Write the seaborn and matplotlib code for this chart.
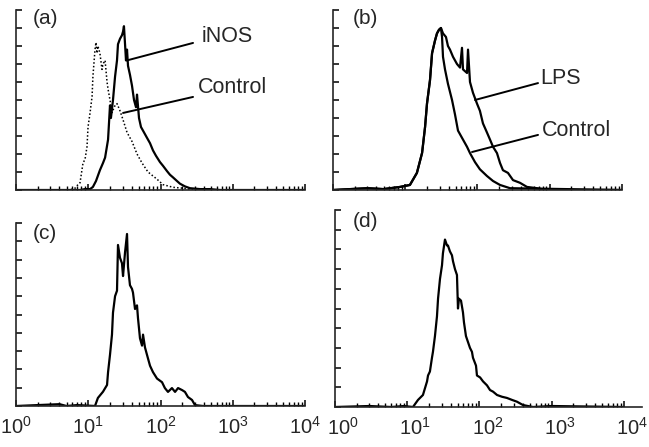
import matplotlib
matplotlib.use("Agg")
import matplotlib.pyplot as plt
import matplotlib.ticker as mticker
import matplotlib.transforms as mtransforms
import seaborn as sns
import pandas as pd

# ---------------- data (fluorescence intensity, relative cell count) ----------------
a_inos_x = [1.0, 7.7, 9.0, 10.6, 11.6, 12.8, 14.5, 16.0, 17.1, 18.8, 20.0, 20.6, 22.0, 23.5, 25.0,
            25.8, 27.5, 29.3, 30.3, 31.2, 32.3, 33.3, 34.4, 35.5, 37.8, 40.3, 43.0, 45.8, 47.3, 50.4,
            53.7, 59.1, 65.0, 71.6, 78.7, 86.6, 98.4, 108, 123, 135, 149, 169, 186, 218, 256,
            352, 484, 666, 1733, 10000]
a_inos_y = [0, 0.0, 0.05, 0.05, 0.17, 0.5, 1.1, 1.5, 1.8, 2.8, 4.7, 4.0, 5.0, 6.3, 7.2,
            8.1, 8.4, 8.6, 8.8, 9.1, 8.1, 7.2, 7.8, 6.9, 6.4, 5.8, 5.0, 4.6, 5.3, 4.0,
            3.5, 3.2, 2.9, 2.6, 2.2, 1.9, 1.55, 1.35, 1.05, 0.85, 0.7, 0.5, 0.35, 0.2, 0.1,
            0.05, 0.05, 0.0, 0.0, 0.0]

a_ctrl_x = [1.0, 5.5, 6.56, 7.21, 7.69, 8.46, 9.02, 9.61, 9.93, 10.6, 11.3, 11.6, 12.4, 12.8, 13.2,
            13.6, 14.5, 15.5, 16.0, 17.1, 18.2, 18.8, 20.0, 21.3, 23.5, 25.0, 27.5, 30.3, 34.4, 40.3,
            47.3, 55.5, 67.1, 89.5, 108, 149, 205, 300, 10000]
a_ctrl_y = [0, 0.0, 0.1, 0.3, 0.4, 1.5, 1.7, 2.4, 3.5, 4.3, 5.2, 6.3, 7.8, 8.2, 7.6,
            8.0, 7.6, 6.7, 7.0, 7.2, 6.0, 5.6, 5.0, 4.3, 4.7, 4.8, 4.4, 3.9, 3.2, 2.7,
            2.0, 1.5, 1.0, 0.6, 0.3, 0.15, 0.1, 0.0, 0.0]

b_lps_x = [1.0, 3.0, 5.0, 8.46, 11.6, 14.5, 17.1, 18.8, 20.0, 22.0, 23.5, 25.8, 27.5, 29.3, 31.2,
           33.3, 36.6, 39.0, 41.6, 45.8, 52.0, 57.3, 61.0, 63.0, 71.6, 73.9, 78.7, 86.6, 98.4, 108,
           119, 135, 149, 164, 186, 205, 225, 264, 310, 387, 484, 666, 916, 10000]
b_lps_y = [0, 0.1, 0.05, 0.17, 0.28, 0.95, 2.06, 3.5, 4.8, 6.1, 7.6, 8.3, 8.7, 8.9, 9.0,
           8.7, 8.5, 8.0, 7.8, 7.4, 7.0, 6.8, 7.9, 6.7, 6.5, 7.8, 6.0, 5.4, 4.8, 4.4,
           3.7, 3.2, 2.8, 2.4, 2.05, 1.5, 1.1, 0.95, 0.55, 0.4, 0.17, 0.1, 0.0, 0.0]

b_ctrl_x = [1.0, 3.0, 5.0, 8.46, 11.6, 14.5, 17.1, 18.8, 20.0, 22.0, 23.5, 25.8, 27.5, 29.3, 31.2,
            32.3, 33.3, 35.5, 39.0, 44.4, 48.8, 53.7, 61.0, 71.6, 78.7, 92.3, 108, 135, 164, 205,
            282, 10000]
b_ctrl_y = [0, 0.1, 0.05, 0.17, 0.28, 0.95, 2.06, 3.5, 4.8, 6.1, 7.6, 8.3, 8.7, 8.9, 9.0,
            8.5, 7.4, 6.7, 5.9, 5.0, 4.2, 3.3, 2.9, 2.4, 2.05, 1.55, 1.15, 0.78, 0.5, 0.28,
            0.1, 0.0]

c_x = [1.0, 4.0, 5.0, 7.0, 12.4, 13.6, 16.0, 18.2, 18.8, 20.0, 21.3, 22.0, 23.5, 25.0, 25.8,
       27.5, 29.3, 30.3, 32.3, 34.4, 35.5, 37.8, 40.3, 41.6, 44.4, 47.3, 48.8, 52.0, 55.5, 57.3,
       61.0, 65.0, 67.1, 71.6, 78.7, 89.5, 105, 115, 127, 144, 159, 175, 199, 218, 240,
       273, 300, 387, 10000]
c_y = [0, 0.1, 0.0, 0.05, 0.0, 0.44, 0.78, 1.15, 1.85, 2.8, 3.9, 5.1, 6.0, 6.3, 8.8,
       8.1, 7.8, 7.1, 8.4, 9.4, 7.6, 6.6, 6.4, 6.2, 5.3, 5.5, 4.8, 3.7, 3.3, 3.9,
       3.2, 2.8, 2.6, 2.2, 1.85, 1.5, 1.3, 0.98, 0.77, 0.98, 0.77, 0.98, 0.87, 0.77, 0.49,
       0.33, 0.05, 0.0, 0.0]

d_x = [1.0, 3.0, 6.0, 9.0, 12.0, 14.1, 16.5, 18.8, 19.4, 20.6, 22.0, 22.7, 24.2, 25.8, 26.7,
       28.4, 30.3, 31.2, 33.3, 35.5, 36.6, 39.0, 41.6, 43.0, 45.8, 48.8, 50.4, 52.0, 55.5, 59.1,
       61.0, 65.0, 69.3, 73.9, 78.7, 81.3, 89.5, 92.3, 102, 112, 127, 140, 154, 175, 205,
       240, 282, 330, 400, 550, 1000, 10000]
d_y = [0, 0.05, 0.0, 0.05, 0.0, 0.36, 0.61, 1.3, 1.6, 1.8, 2.5, 2.8, 3.6, 4.6, 5.5,
       6.5, 7.2, 7.8, 8.5, 8.2, 8.2, 7.9, 7.7, 7.4, 7.0, 6.7, 5.0, 5.5, 5.4, 4.8,
       4.3, 3.6, 3.3, 3.0, 2.8, 2.5, 2.1, 1.6, 1.5, 1.3, 1.1, 0.86, 0.78, 0.61, 0.52,
       0.46, 0.36, 0.27, 0.1, 0.0, 0.05, 0.0]

panel_labels = ["(a)", "(b)", "(c)", "(d)"]
tick_decades = [1, 10, 100, 1000, 10000]

# ---------------- style ----------------
sns.set_style("ticks")
plt.rcParams["font.family"] = ["Liberation Sans", "DejaVu Sans"]
plt.rcParams["axes.linewidth"] = 1.2

W, H = 649, 447
fig = plt.figure(figsize=(W / 100, H / 100), dpi=100)


def add_ax(left, right, top, bottom):
    return fig.add_axes([left / W, 1 - bottom / H, (right - left) / W, (bottom - top) / H])


ax_a = add_ax(16, 305, 10, 190)
ax_b = add_ax(333, 622, 10, 190)
ax_c = add_ax(16, 305, 223, 406)
ax_d = add_ax(335, 642, 210, 407)
axes = [ax_a, ax_b, ax_c, ax_d]

lw = 1.6
sns.lineplot(data=pd.DataFrame({"x": a_ctrl_x, "y": a_ctrl_y}), x="x", y="y", ax=ax_a,
             color="black", lw=1.1, linestyle=(0, (1, 1.4)), estimator=None)
sns.lineplot(data=pd.DataFrame({"x": a_inos_x, "y": a_inos_y}), x="x", y="y", ax=ax_a,
             color="black", lw=lw, estimator=None)
sns.lineplot(data=pd.DataFrame({"x": b_ctrl_x, "y": b_ctrl_y}), x="x", y="y", ax=ax_b,
             color="black", lw=lw, estimator=None)
sns.lineplot(data=pd.DataFrame({"x": b_lps_x, "y": b_lps_y}), x="x", y="y", ax=ax_b,
             color="black", lw=lw, estimator=None)
sns.lineplot(data=pd.DataFrame({"x": c_x, "y": c_y}), x="x", y="y", ax=ax_c,
             color="black", lw=lw, estimator=None)
sns.lineplot(data=pd.DataFrame({"x": d_x, "y": d_y}), x="x", y="y", ax=ax_d,
             color="black", lw=lw, estimator=None)

for i, ax in enumerate(axes):
    ax.set_xscale("log")
    ax.set_xlim(1, 10 ** 4.25 if ax is ax_d else 1e4)
    ax.set_ylim(0, 10)
    ax.set_xlabel("")
    ax.set_ylabel("")
    sns.despine(ax=ax)
    ax.xaxis.set_major_locator(mticker.FixedLocator(tick_decades))
    ax.xaxis.set_minor_locator(mticker.LogLocator(base=10, subs=range(2, 10), numticks=20))
    ax.xaxis.set_minor_formatter(mticker.NullFormatter())
    ax.yaxis.set_major_locator(mticker.MultipleLocator(1))
    ax.set_yticklabels([])
    ax.tick_params(axis="both", which="major", direction="in", length=4, width=1.1, color="black")
    ax.tick_params(axis="x", which="minor", direction="in", length=3, width=1.0, color="black")
    ax.tick_params(axis="x", which="major", labelsize=14.5, pad=7)
    if i < 2:
        ax.set_xticklabels([])
    ax.patch.set_alpha(0)

# the (d) tick labels sit slightly to the right of their ticks in the original
shift = mtransforms.ScaledTranslation(8 / 100, 0, fig.dpi_scale_trans)
for lab in ax_d.get_xticklabels():
    lab.set_transform(lab.get_transform() + shift)

label_pos = [(0.059, 0.955), (0.069, 0.95), (0.059, 0.945), (0.059, 0.944)]
for ax, lab, (px, py) in zip(axes, panel_labels, label_pos):
    ax.text(px, py, lab, transform=ax.transAxes, fontsize=15, ha="left", va="center")

line_kw = dict(arrowstyle="-", lw=1.4, color="black", shrinkA=0, shrinkB=0)
fs = 15.5
# (a)
ax_a.annotate("", xy=(34.4, 7.2), xytext=(282, 8.17), arrowprops=line_kw)
ax_a.text(375, 8.5, "iNOS", fontsize=fs, ha="left", va="center")
ax_a.annotate("", xy=(30.3, 4.28), xytext=(282, 5.17), arrowprops=line_kw)
ax_a.text(330, 5.67, "Control", fontsize=fs, ha="left", va="center")
# (b)
ax_b.annotate("", xy=(92.3, 5.0), xytext=(688, 5.94), arrowprops=line_kw)
ax_b.text(733, 6.22, "LPS", fontsize=fs, ha="left", va="center")
ax_b.annotate("", xy=(83.9, 2.11), xytext=(688, 3.06), arrowprops=line_kw)
ax_b.text(781, 3.28, "Control", fontsize=fs, ha="left", va="center")

fig.savefig("out.png", dpi=100)
